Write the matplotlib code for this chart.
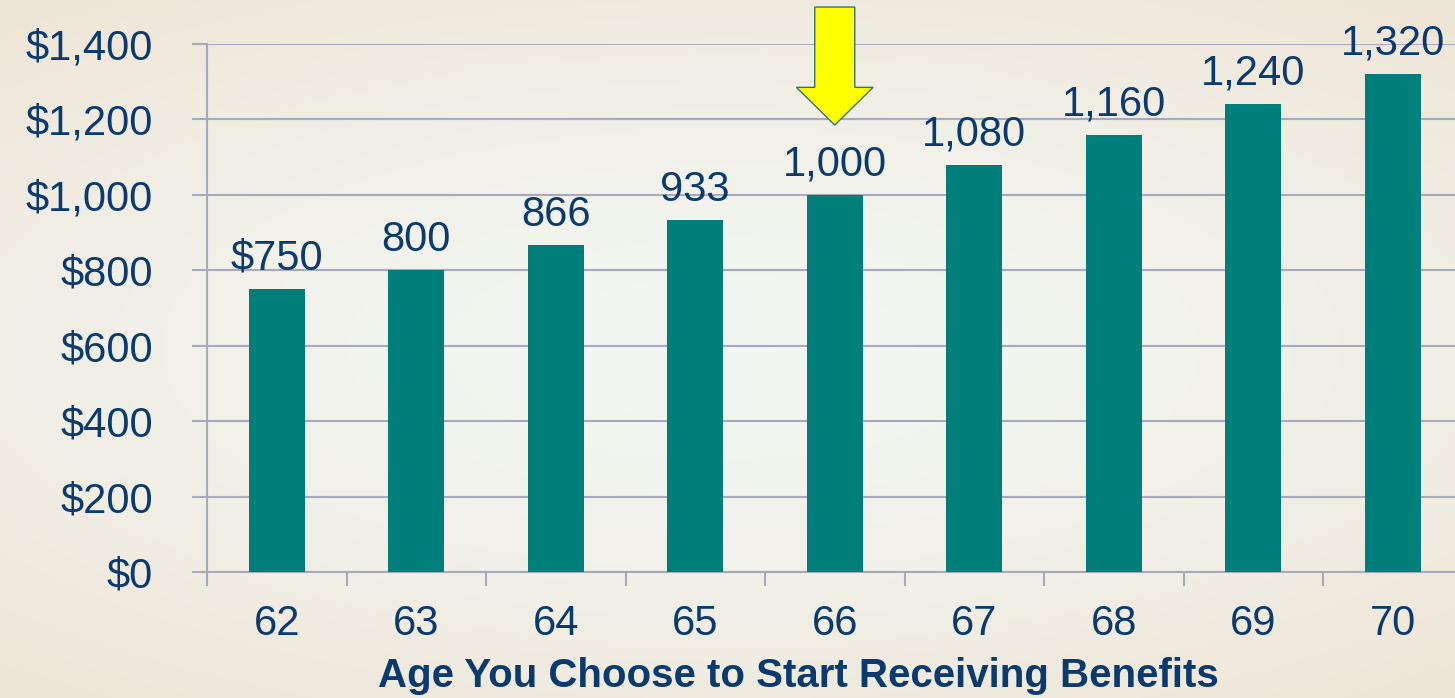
import numpy as np
import matplotlib
matplotlib.use('Agg')
import matplotlib.pyplot as plt
from matplotlib.colors import LinearSegmentedColormap
from matplotlib.patches import FancyArrow

# Data
ages = ['62', '63', '64', '65', '66', '67', '68', '69', '70']
benefits = [750, 800, 866, 933, 1000, 1080, 1160, 1240, 1320]
value_labels = ['$750', '800', '866', '933', '1,000', '1,080', '1,160', '1,240', '1,320']
y_ticks = [0, 200, 400, 600, 800, 1000, 1200, 1400]
y_tick_labels = ['$0', '$200', '$400', '$600', '$800', '$1,000', '$1,200', '$1,400']
highlight_age = '66'

text_color = '#0b3a6e'
bar_color = '#007f7a'
grid_color = '#a7a9bd'

plt.rcParams['font.family'] = ['Liberation Sans', 'DejaVu Sans']

fig = plt.figure(figsize = (14.55, 6.98), dpi = 100)

# Background gradient (cream edges, pale centre)
bg = fig.add_axes([0, 0, 1, 1], zorder = -10)
gx, gy = np.meshgrid(np.linspace(-1, 1, 400), np.linspace(-1, 1, 200))
r = np.sqrt((gx * 0.9) ** 2 + (gy * 1.1) ** 2)
cmap = LinearSegmentedColormap.from_list('bg', ['#f3f7f4', '#f1f1e9', '#efe5d6'])
bg.imshow(r, cmap = cmap, aspect = 'auto', extent = [0, 1, 0, 1], vmin = 0, vmax = 1.4)
bg.axis('off')

ax = fig.add_axes([207 / 1455, 126 / 698, 1255.5 / 1455, 528 / 698])
ax.patch.set_alpha(0)

x = np.arange(len(ages))
ax.bar(x, benefits, width = 0.4, color = bar_color, zorder = 3)

for xi, v, lab in zip(x, benefits, value_labels):
    ax.annotate(
        lab,
        (xi, v),
        xytext = (0, 14),
        textcoords = 'offset points',
        ha = 'center',
        va = 'baseline',
        fontsize = 30,
        color = text_color,
        annotation_clip = False,
        zorder = 5
    )

# Highlight arrow above chosen age
hi = ages.index(highlight_age)
tip = benefits[hi] + 185
arrow = FancyArrow(
    hi, tip + 313, 0, -313,
    width = 0.287,
    head_width = 0.55,
    head_length = 100,
    length_includes_head = True,
    facecolor = '#ffff00',
    edgecolor = '#3c6f78',
    linewidth = 1,
    clip_on = False,
    zorder = 6
)
ax.add_patch(arrow)

ax.set_xlim(-0.5, len(ages) - 0.5)
ax.set_ylim(0, 1400)

ax.set_yticks(y_ticks)
ax.set_yticklabels(y_tick_labels)
ax.yaxis.grid(True, color = grid_color, linewidth = 1.5, zorder = 0)
ax.set_axisbelow(True)
ax.tick_params(axis = 'y', length = 11, width = 1.5, color = grid_color, pad = 28,
               labelsize = 30, labelcolor = text_color)

ax.set_xticks(x)
ax.set_xticklabels(ages)
ax.set_xticks(np.arange(len(ages) + 1) - 0.5, minor = True)
ax.tick_params(axis = 'x', which = 'major', length = 0, pad = 23,
               labelsize = 30, labelcolor = text_color)
ax.tick_params(axis = 'x', which = 'minor', length = 10, width = 1.5, color = grid_color)

for side in ['top', 'right']:
    ax.spines[side].set_visible(False)
for side in ['left', 'bottom']:
    ax.spines[side].set_color(grid_color)
    ax.spines[side].set_linewidth(1.5)

fig.text(798 / 1455, 11 / 698, 'Age You Choose to Start Receiving Benefits',
         ha = 'center', va = 'baseline', fontsize = 29, fontweight = 'bold',
         color = text_color)

fig.savefig('out.png', dpi = 100)
